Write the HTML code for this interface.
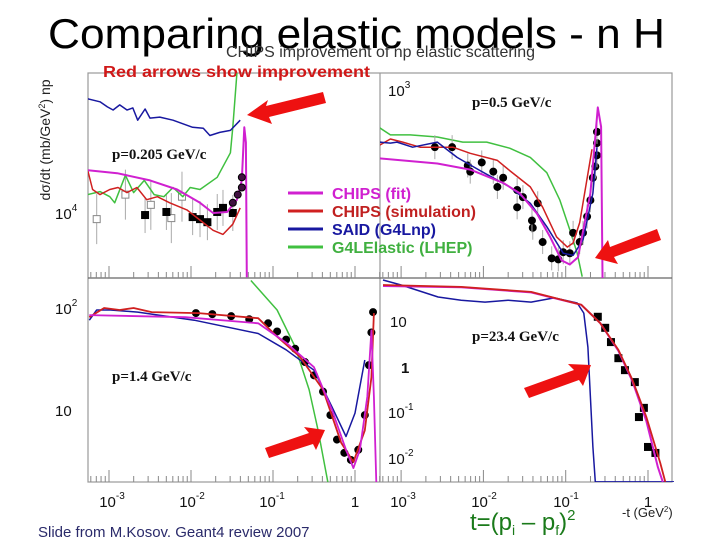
<!DOCTYPE html>
<html><head><meta charset="utf-8"><style>
html,body{margin:0;padding:0;background:#fff;}
svg{display:block;font-family:"Liberation Sans",sans-serif;}
</style></head><body>
<svg id="c" width="720" height="540" viewBox="0 0 720 540">
<defs>
<clipPath id="cTL"><rect x="88" y="73" width="292" height="205"/></clipPath>
<clipPath id="cTR"><rect x="380" y="73" width="292" height="205"/></clipPath>
<clipPath id="cBL"><rect x="88" y="278" width="292" height="204"/></clipPath>
<clipPath id="cBR"><rect x="380" y="278" width="294" height="204"/></clipPath>
</defs>
<text x="48" y="48" font-size="42" textLength="617" lengthAdjust="spacingAndGlyphs">Comparing elastic models - n H</text>
<text x="226" y="57" font-size="16" fill="#333" textLength="309" lengthAdjust="spacingAndGlyphs">CHIPS improvement of np elastic scattering</text>
<g stroke="#999" fill="none" stroke-width="1.2">
<rect x="88" y="73" width="584" height="409"/>
<line x1="380" y1="73" x2="380" y2="482"/>
<line x1="88" y1="278" x2="672" y2="278" stroke="#666"/>
</g>
<text x="103" y="77" font-size="16" font-weight="bold" fill="#d01818" textLength="267" lengthAdjust="spacingAndGlyphs">Red arrows show improvement</text>
<text transform="translate(50,140) rotate(-90)" text-anchor="middle" font-size="14" fill="#222">dσ/dt (mb/GeV<tspan font-size="9" dy="-5">2</tspan><tspan dy="5">) np</tspan></text>
<g id="ticks" stroke="#888" stroke-width="1"></g>
<g font-size="15" fill="#111">
<text x="55" y="219">10<tspan font-size="10" dy="-8">4</tspan></text>
<text x="388" y="96">10<tspan font-size="10" dy="-8">3</tspan></text>
<text x="55" y="314">10<tspan font-size="10" dy="-8">2</tspan></text>
<text x="55" y="416">10</text>
<text x="390" y="327">10</text>
<text x="401" y="373" font-weight="bold">1</text>
<text x="388" y="418">10<tspan font-size="10" dy="-8">-1</tspan></text>
<text x="388" y="464">10<tspan font-size="10" dy="-8">-2</tspan></text>
</g>
<g font-size="15" fill="#111" text-anchor="middle">
<text x="112" y="507">10<tspan font-size="10" dy="-8">-3</tspan></text>
<text x="192" y="507">10<tspan font-size="10" dy="-8">-2</tspan></text>
<text x="272" y="507">10<tspan font-size="10" dy="-8">-1</tspan></text>
<text x="355" y="507">1</text>
<text x="403" y="507">10<tspan font-size="10" dy="-8">-3</tspan></text>
<text x="484" y="507">10<tspan font-size="10" dy="-8">-2</tspan></text>
<text x="566" y="507">10<tspan font-size="10" dy="-8">-1</tspan></text>
<text x="648" y="507">1</text>
</g>
<text x="622" y="517" font-size="13" fill="#222">-t (GeV<tspan font-size="8" dy="-5">2</tspan><tspan dy="5">)</tspan></text>
<text x="470" y="530" font-size="24" fill="#1a7a1a">t=(p<tspan font-size="14" dy="5">i</tspan><tspan dy="-5"> – p</tspan><tspan font-size="14" dy="5">f</tspan><tspan dy="-5">)</tspan><tspan font-size="15" dy="-10">2</tspan></text>
<text x="38" y="537" font-size="15" fill="#2a2a6a">Slide from M.Kosov. Geant4 review 2007</text>
<g font-family="Liberation Serif,serif" font-weight="bold" font-size="15" fill="#111">
<text x="112" y="159">p=0.205 GeV/c</text>
<text x="472" y="107">p=0.5 GeV/c</text>
<text x="112" y="381">p=1.4 GeV/c</text>
<text x="472" y="341">p=23.4 GeV/c</text>
</g>
<g id="curves"></g>
<g font-size="16" font-weight="bold">
<g><line x1="288" y1="193" x2="323" y2="193" stroke="#d020d0" stroke-width="3"/><text x="332" y="199" fill="#d020d0">CHIPS (fit)</text></g>
<g><line x1="288" y1="211" x2="323" y2="211" stroke="#d02020" stroke-width="3"/><text x="332" y="217" fill="#c02020">CHIPS (simulation)</text></g>
<g><line x1="288" y1="229" x2="323" y2="229" stroke="#1818a0" stroke-width="3"/><text x="332" y="235" fill="#1818a0">SAID   (G4Lnp)</text></g>
<g><line x1="288" y1="247" x2="323" y2="247" stroke="#40c040" stroke-width="3"/><text x="332" y="253" fill="#40b040">G4LElastic (LHEP)</text></g>
</g>
<g fill="#ee1111">
<polygon points="247,115 268,100 266,106 323,92 326,103 269,117 272,124"/>
<polygon points="595,258 608,240 610,247 657,229 661,240 614,257 618,264"/>
<polygon points="325,430 316,450 313,444 269,458 265,448 309,433 304,427"/>
<polygon points="591,365 583,386 579,380 529,398 524,388 574,370 568,364"/>
</g>
</svg>
<script>
var tlT_blue=[-3.26,-3.11,-3.02,-2.95,-2.87,-2.78,-2.71,-2.65,-2.56,-2.5,-2.38,-2.22,-1.98,-1.85,-1.77,-1.65,-1.52,-1.40];
var tlV_blue=[5.12,5.09,5.04,5.01,5.06,5.01,5.03,4.91,5.02,4.93,4.94,4.91,4.84,4.83,4.76,4.79,4.81,4.91];
var tlT_green=[-3.26,-3.11,-2.99,-2.93,-2.80,-2.70,-2.57,-2.45,-2.33,-2.22,-2.10,-2.01,-1.89,-1.68,-1.52,-1.49,-1.44];
var tlV_green=[4.18,4.21,4.16,4.10,4.37,4.20,4.32,4.18,4.16,4.25,4.16,4.25,4.23,4.35,4.59,4.84,5.37];
var tlT_mag=[-3.26,-2.90,-2.50,-2.17,-1.89,-1.73,-1.56,-1.44,-1.38,-1.35,-1.33,-1.32];
var tlV_mag=[4.42,4.39,4.32,4.23,4.10,4.0,4.01,4.13,4.32,4.84,4.69,3.37];
var tlT_red=[-3.26,-3.20,-3.11,-2.99,-2.89,-2.78,-2.66,-2.54,-2.41,-2.26,-2.05,-1.89,-1.73,-1.61,-1.49,-1.40];
var tlV_red=[4.42,4.23,4.18,4.23,4.25,4.20,4.25,4.13,4.16,4.10,4.03,3.93,3.83,3.79,3.89,4.05];
var tlT_sq=[-2.56,-2.30,-1.98,-1.89,-1.80,-1.68,-1.61,-1.49];
var tlV_sq=[3.98,4.01,3.96,3.94,3.91,4.01,4.05,4.0];
var tlT_circ=[-1.43,-1.38,-1.38,-1.49];
var tlV_circ=[4.18,4.25,4.35,4.10];
var tlT_open=[-3.15,-2.80,-2.49,-2.24,-2.11];
var tlV_open=[3.94,4.18,4.08,3.95,4.16];

var trT_green=[-3.26,-3.13,-2.89,-2.56,-2.25,-1.96,-1.68,-1.43,-1.23,-1.07,-0.95,-0.86,-0.80];
var trV_green=[2.61,2.54,2.54,2.52,2.47,2.47,2.41,2.32,2.17,1.90,1.61,1.38,1.15];
var trT_red=[-3.26,-3.13,-2.98,-2.77,-2.37,-2.16,-1.83,-1.68,-1.43,-1.28,-1.11,-0.98,-0.91,-0.83,-0.68];
var trV_red=[2.44,2.50,2.47,2.42,2.42,2.36,2.29,2.19,2.03,1.83,1.54,1.44,1.48,1.68,2.40];
var trT_blue=[-3.26,-3.13,-3.05,-2.86,-2.56,-2.32,-2.04,-1.68,-1.43,-1.23,-1.03,-0.91,-0.79,-0.67,-0.62];
var trV_blue=[2.47,2.46,2.47,2.42,2.47,2.32,2.19,2.03,1.87,1.64,1.38,1.36,1.51,1.97,2.42];
var trT_mag=[-3.26,-2.56,-2.16,-1.76,-1.56,-1.35,-1.19,-1.05,-0.95,-0.85,-0.70,-0.64,-0.61,-0.57,-0.55];
var trV_mag=[2.31,2.26,2.20,2.07,1.97,1.77,1.54,1.31,1.27,1.34,1.97,2.52,2.81,2.62,0.95];
var trT_pts=[-2.59,-2.38,-2.19,-2.02,-1.88,-1.76,-1.59,-1.52,-1.40,-2.16,-1.83,-1.59,-1.41,-1.28,-1.17,-1.09,-1.03,-0.95,-0.91,-0.83,-0.79,-0.74,-0.70,-0.67,-0.64,-0.62,-0.62,-0.62,-1.34];
var trV_pts=[2.42,2.42,2.24,2.27,2.18,2.12,2.0,1.93,1.63,2.18,2.03,1.83,1.70,1.49,1.33,1.32,1.39,1.38,1.58,1.49,1.58,1.74,1.90,2.12,2.23,2.34,2.46,2.57,1.87];

var blT_mag=[-3.24,-2.07,-1.18,-0.84,-0.50,-0.28,-0.11,-0.02,0.06,0.15,0.20,0.23,0.26];
var blV_mag=[1.93,1.91,1.85,1.66,1.42,1.0,0.61,0.43,0.61,1.13,1.78,1.13,0.29];
var blT_red=[-3.24,-3.06,-2.87,-2.70,-2.48,-1.91,-1.18,-0.95,-0.67,-0.39,-0.17,-0.02,0.12,0.20,0.23];
var blV_red=[1.91,2.0,1.98,2.0,1.96,1.95,1.90,1.72,1.52,1.20,0.68,0.49,0.80,1.32,1.95];
var blT_blue=[-3.24,-3.15,-2.98,-2.65,-1.96,-1.18,-0.84,-0.50,-0.28,-0.11,0,0.12];
var blV_blue=[1.88,1.98,1.98,1.96,1.88,1.75,1.59,1.39,1.03,0.74,0.97,1.49];
var blT_green=[-1.27,-0.95,-0.73,-0.56,-0.45,-0.33];
var blV_green=[2.27,1.98,1.62,1.20,0.80,0.29];
var blT_pts=[-1.94,-1.74,-1.51,-1.29,-1.06,-0.95,-0.84,-0.73,-0.61,-0.50,-0.39,-0.30,-0.22,-0.13,-0.05,0.04,0.12,0.17,0.20,0.22];
var blV_pts=[1.95,1.94,1.92,1.89,1.85,1.77,1.69,1.60,1.47,1.34,1.18,0.95,0.71,0.58,0.51,0.61,0.95,1.44,1.76,1.96];

var brT_red=[-3.22,-2.27,-1.42,-0.81,-0.58,-0.36,-0.19,-0.02,0.15,0.21];
var brV_red=[1.76,1.72,1.61,1.33,0.93,0.35,-0.30,-1.11,-2.11,-2.52];
var brT_mag=[-3.22,-2.27,-1.42,-0.81,-0.58,-0.36,-0.19,-0.02,0.12,0.18];
var brV_mag=[1.74,1.71,1.60,1.33,0.93,0.33,-0.33,-1.20,-2.20,-2.52];
var brT_blue=[-3.22,-3.00,-2.55,-2.27,-1.98,-1.70,-1.42,-1.14,-0.86,-0.78,-0.73,-0.69,-0.67,-0.64,0.32];
var brV_blue=[1.87,1.76,1.50,1.43,1.39,1.43,1.39,1.48,1.37,1.15,0.41,-1.02,-1.76,-2.52,-2.52];
var brT_pts=[-0.61,-0.52,-0.45,-0.36,-0.28,-0.16,-0.05,-0.11,0,0.09];
var brV_pts=[1.07,0.83,0.52,0.17,-0.09,-0.35,-0.91,-1.11,-1.76,-1.89];

function xL(t){return 355+82*t;}
function xR(t){return 648+82.3*t;}
function yTL(v){return 213-102*(v-4);}
function yTR(v){return 88-102*(v-3);}
function yBL(v){return 308-102*(v-2);}
function yBR(v){return 320-46*(v-1);}

var NS='http://www.w3.org/2000/svg';
var root=document.getElementById('curves');
function grp(clip,name){var g=document.createElementNS(NS,'g');g.setAttribute('clip-path','url(#'+clip+')');


root.appendChild(g);return g;}
function line(g,T,V,fx,fy,col,w,name){var d='';for(var i=0;i<T.length;i++){d+=(i?'L':'M')+fx(T[i]).toFixed(1)+','+fy(V[i]).toFixed(1);}
var p=document.createElementNS(NS,'path');p.setAttribute('d',d);p.setAttribute('fill','none');p.setAttribute('stroke',col);p.setAttribute('stroke-width',w);p.setAttribute('stroke-linejoin','round');


g.appendChild(p);}
function pts(g,T,V,fx,fy,shape,fill,stroke,s,name,err){for(var i=0;i<T.length;i++){var x=fx(T[i]),y=fy(V[i]);
if(err){var e=document.createElementNS(NS,'line');e.setAttribute('x1',x);e.setAttribute('x2',x);e.setAttribute('y1',y-err);e.setAttribute('y2',y+err);e.setAttribute('stroke','#aaa');e.setAttribute('stroke-width','1');


g.appendChild(e);}
var m;if(shape==='sq'){m=document.createElementNS(NS,'rect');m.setAttribute('x',x-s);m.setAttribute('y',y-s);m.setAttribute('width',2*s);m.setAttribute('height',2*s);}
else{m=document.createElementNS(NS,'circle');m.setAttribute('cx',x);m.setAttribute('cy',y);m.setAttribute('r',s);}
m.setAttribute('fill',fill);m.setAttribute('stroke',stroke);


g.appendChild(m);}}

var g1=grp('cTL','panel-p0205');
pts(g1,tlT_open,tlV_open,xL,yTL,'sq','#fff','#888',3.5,'data-open-square',25);
pts(g1,tlT_sq,tlV_sq,xL,yTL,'sq','#000','#000',3.5,'data-square',18);
line(g1,tlT_green,tlV_green,xL,yTL,'#40c040',1.5,'g4lelastic-curve');
line(g1,tlT_blue,tlV_blue,xL,yTL,'#1818a0',1.5,'said-curve');
line(g1,tlT_red,tlV_red,xL,yTL,'#d02020',1.5,'chips-sim-curve');
line(g1,tlT_mag,tlV_mag,xL,yTL,'#d020d0',2,'chips-fit-curve');
pts(g1,tlT_circ,tlV_circ,xL,yTL,'c','#401040','#000',3.5,'data-circle',0);

var g2=grp('cTR','panel-p05');
line(g2,trT_green,trV_green,xR,yTR,'#40c040',1.5,'g4lelastic-curve');
pts(g2,trT_pts,trV_pts,xR,yTR,'c','#000','#000',3.5,'data-point',12);
line(g2,trT_red,trV_red,xR,yTR,'#d02020',1.5,'chips-sim-curve');
line(g2,trT_blue,trV_blue,xR,yTR,'#1818a0',1.5,'said-curve');
line(g2,trT_mag,trV_mag,xR,yTR,'#d020d0',2,'chips-fit-curve');

var g3=grp('cBL','panel-p14');
line(g3,blT_green,blV_green,xL,yBL,'#40c040',1.5,'g4lelastic-curve');
pts(g3,blT_pts,blV_pts,xL,yBL,'c','#000','#000',3.5,'data-point',0);
line(g3,blT_blue,blV_blue,xL,yBL,'#1818a0',1.5,'said-curve');
line(g3,blT_red,blV_red,xL,yBL,'#d02020',1.8,'chips-sim-curve');
line(g3,blT_mag,blV_mag,xL,yBL,'#d020d0',1.8,'chips-fit-curve');

var g4=grp('cBR','panel-p234');
line(g4,brT_blue,brV_blue,xR,yBR,'#1818a0',1.5,'said-curve');
pts(g4,brT_pts,brV_pts,xR,yBR,'sq','#000','#000',3.5,'data-square',0);
line(g4,brT_mag,brV_mag,xR,yBR,'#d020d0',2,'chips-fit-curve');
line(g4,brT_red,brV_red,xR,yBR,'#d02020',1.8,'chips-sim-curve');

var tk=document.getElementById('ticks');
[[xL,278],[xL,482],[xR,278],[xR,482]].forEach(function(a){
for(var d=-4;d<=0;d++){for(var k=1;k<10;k++){var t=d+Math.log10(k);var x=a[0](t);
if(x<88||x>672)continue;if(a[0]===xL&&x>380)continue;if(a[0]===xR&&x<380)continue;
var l=document.createElementNS(NS,'line');l.setAttribute('x1',x);l.setAttribute('x2',x);l.setAttribute('y1',a[1]);l.setAttribute('y2',a[1]-(k===1?12:6));


tk.appendChild(l);}}});
</script>
</body></html>
